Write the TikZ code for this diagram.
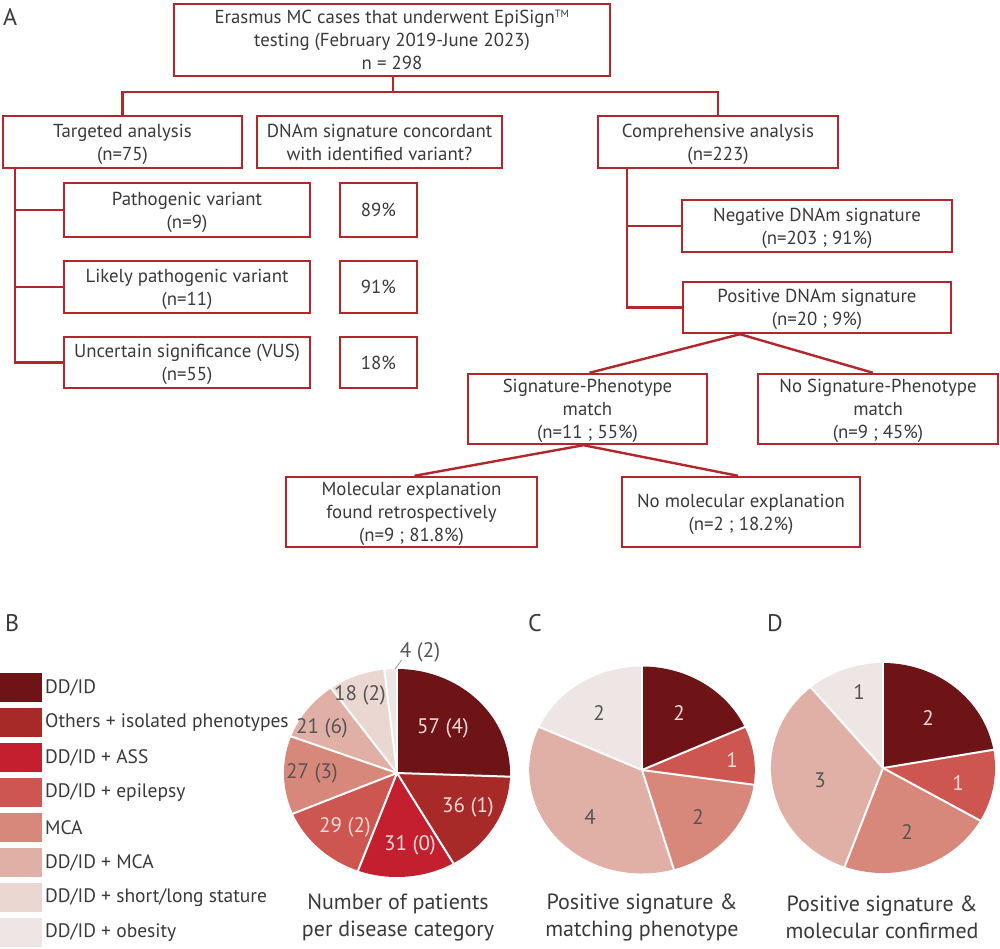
\documentclass[tikz,border=0pt]{standalone}
\usepackage{fontspec}
\setmainfont{PT Sans}
\usetikzlibrary{calc}
\definecolor{boxred}{HTML}{B3262C}
\definecolor{txt}{HTML}{3A3A3A}
\definecolor{cA}{HTML}{6E1416}
\definecolor{cB}{HTML}{A82A28}
\definecolor{cC}{HTML}{C41F2F}
\definecolor{cD}{HTML}{CE5651}
\definecolor{cE}{HTML}{D8877B}
\definecolor{cF}{HTML}{E0B0A6}
\definecolor{cG}{HTML}{EAD7D2}
\definecolor{cH}{HTML}{EEE6E4}
\definecolor{lbl}{HTML}{F5DCD8}
\definecolor{lbd}{HTML}{555555}
\newcommand\myslice[4]{\fill[#1] (0,0) -- (#2:#4) arc[start angle=#2, end angle=#3, radius=#4] -- cycle;}
\begin{document}
\begin{tikzpicture}[x=1pt,y=-1pt,
  box/.style={draw=boxred, line width=2.4pt, inner sep=0pt, align=center, text=txt, text depth=0pt,
    font=\fontsize{18.8}{23}\selectfont},
  conn/.style={draw=boxred, line width=2.4pt},
  panel/.style={anchor=base west, inner sep=0pt, text=txt, font=\fontsize{24}{28}\selectfont},
  legtxt/.style={anchor=west, inner sep=0pt, text=txt, font=\fontsize{19.5}{22}\selectfont},
  swatch/.style={minimum width=42pt, minimum height=29pt, inner sep=0pt, anchor=north west},
  caption/.style={align=center, inner sep=0pt, text=txt, font=\fontsize{22}{27}\selectfont},
  plab/.style={inner sep=0pt, font=\fontsize{21}{24}\selectfont},
  sep/.style={draw=white, line width=2pt}]
\useasboundingbox (0,0) rectangle (1000,949);
\fill[white] (0,0) rectangle (1000,949);

% ---------- Panel A ----------
\node[panel] (la) at (3,26) {A};
\node[box, minimum width=436pt, minimum height=72pt] (top) at (392,40)
  {Erasmus MC cases that underwent EpiSign\textsuperscript{\scalebox{0.8}{TM}}\\ testing (February 2019-June 2023)\\ n = 298};
\node[box, minimum width=239pt, minimum height=52pt] (targ) at (122.5,142) {Targeted analysis\\ (n=75)};
\node[box, minimum width=245pt, minimum height=52pt] (dnam) at (379.5,142) {DNAm signature concordant\\ with identified variant?};
\node[box, minimum width=240pt, minimum height=52pt] (comp) at (718,142) {Comprehensive analysis\\ (n=223)};
\node[box, minimum width=246pt, minimum height=54pt] (path) at (187,210) {Pathogenic variant\\ (n=9)};
\node[box, minimum width=77pt, minimum height=54pt] (p89) at (378.5,210) {89\%};
\node[box, minimum width=246pt, minimum height=52pt] (likely) at (187,287) {Likely pathogenic variant\\ (n=11)};
\node[box, minimum width=77pt, minimum height=52pt] (p91) at (378.5,287) {91\%};
\node[box, minimum width=246pt, minimum height=51pt] (vus) at (187,362.5) {Uncertain significance (VUS)\\ (n=55)};
\node[box, minimum width=77pt, minimum height=51pt] (p18) at (378.5,362.5) {18\%};
\node[box, minimum width=270pt, minimum height=52pt] (neg) at (817,226) {Negative DNAm signature\\ (n=203 ; 91\%)};
\node[box, minimum width=268pt, minimum height=51pt] (pos) at (817,307.5) {Positive DNAm signature\\ (n=20 ; 9\%)};
\node[box, minimum width=239pt, minimum height=70pt] (sig) at (587.5,409) {Signature-Phenotype\\ match\\ (n=11 ; 55\%)};
\node[box, minimum width=240pt, minimum height=70pt] (nosig) at (878,409) {No Signature-Phenotype\\ match\\ (n=9 ; 45\%)};
\node[box, minimum width=251pt, minimum height=70pt] (mol) at (411.5,512) {Molecular explanation\\ found retrospectively\\ (n=9 ; 81.8\%)};
\node[box, minimum width=238pt, minimum height=70pt] (nomol) at (741,512) {No molecular explanation\\ (n=2 ; 18.2\%)};

\coordinate (tj) at (393,92);
\draw[conn] (top.south -| tj) -- (tj);
\draw[conn] (targ.north) -- (targ.north |- tj) -- (comp.north |- tj) -- (comp.north);
\coordinate (ls) at (15,168);
\draw[conn] (ls) |- (vus.west);
\draw[conn] (ls |- path.west) -- (path.west);
\draw[conn] (ls |- likely.west) -- (likely.west);
\coordinate (cs) at (627,168);
\draw[conn] (cs) |- (pos.west);
\draw[conn] (cs |- neg.west) -- (neg.west);
\coordinate (pb) at ([xshift=-77pt]pos.south);
\draw[conn] (pb) -- ([xshift=2pt]sig.north);
\draw[conn] (pb) -- ([xshift=-5pt]nosig.north);
\coordinate (sb) at ([xshift=-4pt]sig.south);
\draw[conn] (sb) -- ([xshift=3pt]mol.north);
\draw[conn] (sb) -- ([xshift=-3pt]nomol.north);

% ---------- Panel B ----------
\node[panel] (lb) at (5,631) {B};
\node[panel] (lc) at (528,631) {C};
\node[panel] (ld) at (767,631) {D};

\foreach \c/\t [count=\i from 0] in {cA/DD\slash ID, cB/Others + isolated phenotypes, cC/DD\slash ID + ASS,
   cD/DD\slash ID + epilepsy, cE/MCA, cF/DD\slash ID + MCA, cG/DD\slash ID + short\slash long stature, cH/DD\slash ID + obesity}{
  \node[swatch, fill=\c] (sw\i) at (0,673+35*\i) {};
  \node[legtxt] (lt\i) at (45,688+35*\i) {\t};
}

\begin{scope}[shift={(397,773)}, xscale=1.087]
  \myslice{cA}{90}{-2.02}{104pt}
  \myslice{cB}{-2.02}{-60.13}{104pt}
  \myslice{cC}{-60.13}{-110.18}{104pt}
  \myslice{cD}{-110.18}{-156.99}{104pt}
  \myslice{cE}{-156.99}{-200.58}{104pt}
  \myslice{cF}{-200.58}{-234.48}{104pt}
  \myslice{cG}{-234.48}{-263.54}{104pt}
  \myslice{cH}{-263.54}{-270}{104pt}
  \foreach \a in {90,-2.02,-60.13,-110.18,-156.99,-200.58,-234.48,-263.54}
    \draw[sep] (0,0) -- (\a:105pt);
\end{scope}
\node[plab, text=lbl] (b1) at (443,728) {57 (4)};
\node[plab, text=lbl] (b2) at (468,807) {36 (1)};
\node[plab, text=lbl] (b3) at (410,845) {31 (0)};
\node[plab, text=lbl] (b4) at (345,827) {29 (2)};
\node[plab, text=lbd] (b5) at (312,773) {27 (3)};
\node[plab, text=lbd] (b6) at (322,728) {21 (6)};
\node[plab, text=lbd] (b7) at (360,695) {18 (2)};
\node[plab, text=lbd] (b8) at (420,652) {4 (2)};
\coordinate (b8e) at (395,669);
\draw[lbd!60, line width=0.8pt] (b8e) -- ([xshift=2pt,yshift=2pt]b8.south west);
\node[caption] (capb) at (398,918) {Number of patients\\ per disease category};

% ---------- Panel C ----------
\begin{scope}[shift={(642,770)}, xscale=1.09]
  \myslice{cA}{90}{24.55}{103.5pt}
  \myslice{cD}{24.55}{-8.18}{103.5pt}
  \myslice{cE}{-8.18}{-73.64}{103.5pt}
  \myslice{cF}{-73.64}{-204.55}{103.5pt}
  \myslice{cH}{-204.55}{-270}{103.5pt}
  \foreach \a in {90,24.55,-8.18,-73.64,-204.55}
    \draw[sep] (0,0) -- (\a:104.5pt);
\end{scope}
\node[plab, text=lbl] (c1) at (679,713) {2};
\node[plab, text=lbl] (c2) at (732,760) {1};
\node[plab, text=lbd] (c3) at (698,817) {2};
\node[plab, text=lbd] (c4) at (590,817) {4};
\node[plab, text=lbd] (c5) at (599,713) {2};
\node[caption] (capc) at (642,917) {Positive signature \&\\ matching phenotype};

% ---------- Panel D ----------
\begin{scope}[shift={(883,768)}, xscale=1.067]
  \myslice{cA}{90}{10}{105pt}
  \myslice{cD}{10}{-30}{105pt}
  \myslice{cE}{-30}{-110}{105pt}
  \myslice{cF}{-110}{-230}{105pt}
  \myslice{cH}{-230}{-270}{105pt}
  \foreach \a in {90,10,-30,-110,-230}
    \draw[sep] (0,0) -- (\a:106pt);
\end{scope}
\node[plab, text=lbl] (d1) at (928,718) {2};
\node[plab, text=lbl] (d2) at (958,783) {1};
\node[plab, text=lbd] (d3) at (907,832) {2};
\node[plab, text=lbd] (d4) at (820,780) {3};
\node[plab, text=lbd] (d5) at (859,692) {1};
\node[caption] (capd) at (882,917) {Positive signature \&\\ molecular confirmed};
\end{tikzpicture}
\end{document}
